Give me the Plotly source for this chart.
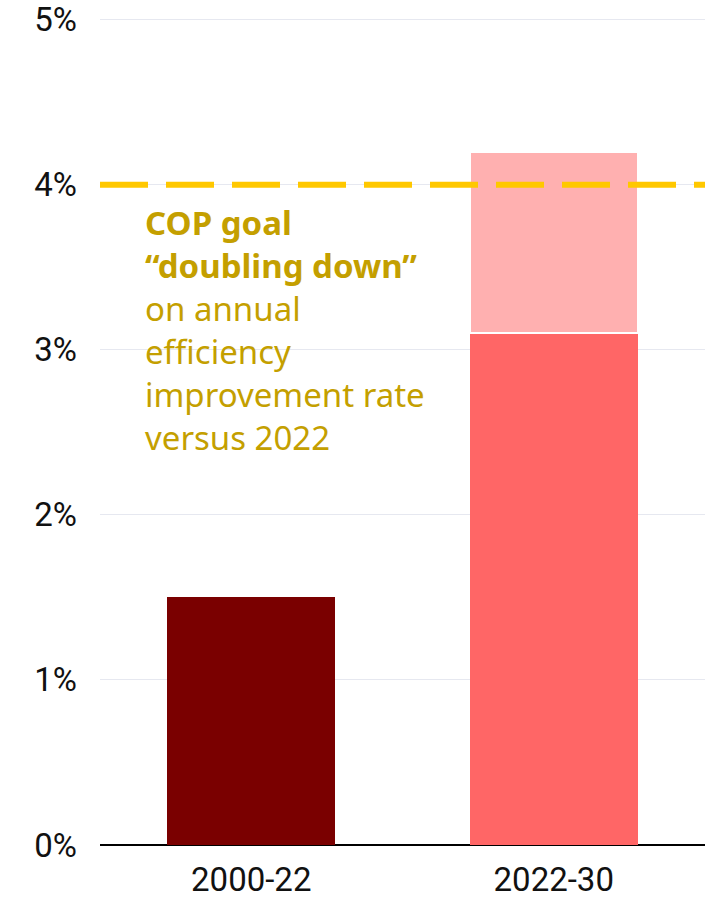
import plotly.graph_objects as go

# Annual energy-efficiency improvement rate (%)
periods = ["2000-22", "2022-30"]
base_rate = [1.5, 3.1]          # achieved / projected rate
extra_period = ["2022-30"]
extra_rate = [1.1]              # additional improvement needed
cop_goal = 4.0                  # COP "doubling down" target
y_ticks = [0, 1, 2, 3, 4, 5]
y_tick_labels = ["0%", "1%", "2%", "3%", "4%", "5%"]

base_colors = ["#7A0000", "#FF6666"]
extra_color = "#FFB0B0"
goal_color = "#FFC800"
text_color = "#C49F00"
font_family = "Noto Sans, Open Sans, sans-serif"
tick_family = "Roboto, Noto Sans, sans-serif"

fig = go.Figure()

fig.add_trace(go.Bar(
    x=periods, y=base_rate,
    marker=dict(color=base_colors, line=dict(width=0)),
    hoverinfo="skip", showlegend=False,
))
fig.add_trace(go.Bar(
    x=extra_period, y=extra_rate,
    marker=dict(color=extra_color, line=dict(color="white", width=2)),
    hoverinfo="skip", showlegend=False,
))

# COP target line
fig.add_shape(
    type="line", xref="paper", yref="y",
    x0=0, x1=1, y0=cop_goal, y1=cop_goal,
    line=dict(color=goal_color, width=6, dash="48px,18px"),
    layer="above",
)

fig.add_annotation(
    xref="paper", yref="y", x=0.071, y=3.92,
    xanchor="left", yanchor="top", align="left", showarrow=False,
    text=("<b>COP goal</b><br><b>\u201cdoubling down\u201d</b><br>"
          "on annual<br>efficiency<br>improvement rate<br>versus 2022"),
    font=dict(family=font_family, size=33, color=text_color),
)

fig.update_layout(
    width=714, height=898,
    margin=dict(l=100, r=9, t=18, b=53),
    paper_bgcolor="white", plot_bgcolor="white",
    barmode="stack", bargap=0.445,
    font=dict(family=font_family, size=32, color="#111111"),
    xaxis=dict(
        showgrid=False, showline=False, ticks="",
        ticklabelstandoff=12, automargin=False,
        tickfont=dict(family=tick_family, size=33, color="#111111"),
    ),
    yaxis=dict(
        range=[0, 5.01], tickvals=y_ticks, ticktext=y_tick_labels,
        showgrid=True, gridcolor="#E6E8F0", gridwidth=1,
        zeroline=True, zerolinecolor="#000000", zerolinewidth=2,
        showline=False, ticks="", ticklabelstandoff=22, automargin=False,
        ticklabeloverflow="allow",
        tickfont=dict(family=tick_family, size=33, color="#111111"),
    ),
)

fig.write_html("out.html")
